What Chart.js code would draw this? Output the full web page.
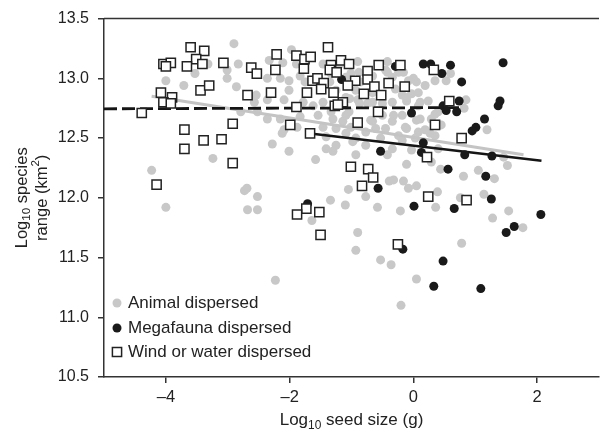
<!DOCTYPE html>
<html><head><meta charset="utf-8">
<script src="https://cdn.jsdelivr.net/npm/chart.js@4.4.1/dist/chart.umd.min.js"></script>
<style>html,body{margin:0;padding:0;background:#fff}#wrap{width:607px;height:435px}</style>
</head><body><div id="wrap"><canvas id="c" width="607" height="435"></canvas></div>
<script>
const seriesLabels = ['Animal dispersed', 'Megafauna dispersed', 'Wind or water dispersed'];
const xTicks = [-4, -2, 0, 2];
const yTicks = [10.5, 11.0, 11.5, 12.0, 12.5, 13.0, 13.5];

const animalX = [-2.90,-3.32,-2.83,-3.53,-3.01,-3.01,-4.00,-3.71,-2.86,-2.57,-2.54,-2.79,-3.24,-4.23,-2.73,-2.69,-4.00,-2.52,-2.68,-2.52,
-2.28,-2.01,-1.41,-1.58,-0.93,-0.11,-0.42,-0.39,-0.32,-0.16,-0.08,0.05,-1.05,-0.77,-0.58,-0.21,-1.34,-1.10,-1.64,-0.90,
-0.93,-0.53,-0.36,-2.23,0.05,-0.20,-2.12,0.27,0.39,0.36,0.44,0.81,1.05,1.31,1.52,1.46,1.14,0.76,1.54,1.28,
1.77,0.78,0.29,0.53,0.60,0.05,0.24,0.85,0.82,0.11,0.35,1.19,0.19,-1.97,-2.33,-2.11,-1.89,-2.36,-2.15,-2.01,
-1.83,-1.75,-2.01,-1.46,-1.33,-1.09,-0.88,-0.85,-0.93,-1.03,-0.66,-0.45,-0.34,-0.24,-0.08,-0.29,-0.18,-0.03,0.08,-0.34,
-0.11,0.08,-0.66,-0.90,-1.46,-1.62,-1.78,-2.09,-2.36,-2.52,-2.36,-2.15,-2.09,-1.88,-1.83,-1.54,-1.33,-1.14,-1.09,-0.66,
-0.50,-0.34,-0.18,-0.13,-0.45,-0.77,-1.25,-1.46,-0.93,-0.53,-0.24,0.08,-1.41,-0.90,-0.42,-0.16,0.00,0.19,0.35,-0.11,
0.11,0.40,-0.32,-0.11,-0.69,-0.61,-1.01,-1.09,-1.30,-1.04,-0.87,-0.74,-0.50,-0.66,-1.09,-1.35,-1.25,-0.18,0.03,0.35,
0.40,-0.03,-0.34,-0.77,-0.98,-1.25,-1.30,0.05,0.29,0.45,-0.42,-1.01,-1.19];
const animalY = [13.29,13.12,13.12,13.04,13.07,13.00,12.98,12.94,12.93,12.80,12.86,12.72,12.33,12.23,12.06,12.08,11.92,12.01,11.90,11.90,
12.45,12.39,12.41,12.32,12.36,12.28,12.36,12.14,12.15,12.14,12.08,12.10,12.07,12.01,11.92,11.89,11.98,11.94,11.81,11.71,
11.56,11.48,11.44,11.31,11.32,11.10,12.54,12.54,12.05,11.92,12.24,12.18,12.23,12.16,12.27,12.34,12.03,12.00,11.89,11.83,
11.75,11.62,12.30,12.98,13.04,12.97,12.81,12.82,12.75,12.66,12.70,12.57,12.57,13.24,13.15,13.13,13.12,13.00,13.00,12.98,
13.02,12.97,12.90,13.12,13.04,13.01,13.05,12.97,12.90,12.83,13.02,13.07,13.01,13.05,12.98,12.91,12.86,12.87,12.88,12.80,
12.81,12.77,12.80,12.82,12.80,12.77,12.80,12.82,12.82,12.72,12.66,12.66,12.57,12.59,12.68,12.69,12.72,12.64,12.69,12.64,
12.69,12.64,12.69,12.59,12.58,12.55,12.58,12.59,12.50,12.50,12.52,12.55,12.51,13.14,13.14,13.05,13.00,12.94,12.98,12.84,
12.80,12.72,12.69,12.58,12.65,12.58,12.59,12.54,12.66,12.72,12.79,12.79,12.79,12.88,12.84,12.97,12.90,12.48,12.50,12.52,
12.41,12.40,12.41,12.44,12.47,12.44,12.39,12.65,12.66,12.61,13.05,13.04,13.12];

const megaX = [-1.16,-0.29,0.16,0.28,0.46,0.60,0.78,1.45,1.40,1.37,0.74,0.48,0.53,0.70,1.15,1.01,0.95,-0.03,0.16,0.13,
0.83,1.27,0.56,1.17,1.26,0.66,0.01,2.06,1.63,1.50,0.48,-0.53,-0.57,-1.71,-0.17,0.33,1.09];
const megaY = [12.99,13.10,13.12,13.12,13.04,13.11,12.97,13.13,12.81,12.77,12.81,12.77,12.73,12.72,12.66,12.59,12.56,12.71,12.46,12.38,
12.36,12.35,12.24,12.18,11.99,11.91,11.93,11.86,11.76,11.71,11.47,12.39,12.08,11.95,11.57,11.26,11.24];

const windX = [-3.60,-3.38,-3.51,-4.04,-3.92,-4.00,-3.66,-3.41,-3.07,-2.62,-2.53,-3.44,-3.30,-4.08,-3.90,-4.04,-3.92,-4.39,-2.68,-3.70,
-2.92,-3.39,-3.10,-3.70,-2.92,-4.15,-1.38,-2.21,-1.89,-1.76,-1.66,-2.23,-1.77,-1.17,-1.04,-1.33,-1.35,-1.24,-0.56,-0.21,
-0.74,-0.74,-1.63,-1.55,-1.45,-1.49,-0.94,-1.06,-0.63,-0.40,-0.14,-2.30,-1.72,-1.29,-0.80,-0.52,-1.14,-1.27,-1.22,-1.89,
-0.57,-0.90,-1.99,-1.67,0.33,0.58,0.35,0.78,0.22,0.24,0.86,-1.01,-0.73,-0.65,-0.83,-1.73,-1.88,-1.52,-1.50,-0.25];
const windY = [13.26,13.23,13.16,13.12,13.13,13.10,13.10,13.12,13.13,13.09,13.04,12.90,12.94,12.88,12.84,12.80,12.79,12.71,12.86,12.57,
12.62,12.48,12.49,12.41,12.29,12.11,13.26,13.20,13.19,13.16,13.18,13.07,13.08,13.15,13.12,13.11,13.07,13.05,13.11,13.11,
13.06,12.99,12.98,13.00,12.96,12.91,12.98,12.94,12.93,12.96,12.93,12.88,12.88,12.88,12.87,12.86,12.80,12.77,12.78,12.76,
12.72,12.63,12.61,12.54,13.07,12.81,12.61,12.50,12.34,12.01,11.98,12.26,12.24,12.17,12.10,11.91,11.86,11.88,11.69,11.61];

const animalFitX = [-4.23, 1.78], animalFitY = [12.85, 12.36];
const megaFitX = [-1.70, 2.07], megaFitY = [12.54, 12.31];
const windFitX = [-5.00, 0.74], windFitY = [12.745, 12.755];

const FONT = '"Liberation Sans", Arial, Helvetica, sans-serif';
const TXT = '#222';
const pts = (xs, ys) => xs.map((x, i) => ({x, y: ys[i]}));

function drawRich(ctx, parts, cx, cy, size) {
  let w = 0;
  parts.forEach(p => { ctx.font = (p.sub || p.sup ? size * 0.7 : size) + 'px ' + FONT; p.w = ctx.measureText(p.t).width; w += p.w; });
  let x = cx - w / 2;
  ctx.textBaseline = 'middle'; ctx.textAlign = 'left'; ctx.fillStyle = TXT;
  parts.forEach(p => {
    ctx.font = (p.sub || p.sup ? size * 0.7 : size) + 'px ' + FONT;
    const dy = p.sub ? size * 0.32 : (p.sup ? -size * 0.38 : 0);
    ctx.fillText(p.t, x, cy + dy); x += p.w;
  });
}

const decor = {
  id: 'decor',
  afterDraw(chart) {
    const ctx = chart.ctx, a = chart.chartArea;
    ctx.save();
    ctx.strokeStyle = '#333'; ctx.lineWidth = 1.5;
    ctx.beginPath(); ctx.moveTo(a.left, a.top); ctx.lineTo(a.right, a.top); ctx.stroke();
    drawRich(ctx, [{t:'Log'},{t:'10',sub:true},{t:' seed size (g)'}], (a.left + a.right) / 2, 420, 17);
    ctx.save();
    ctx.translate(22, (a.top + a.bottom) / 2); ctx.rotate(-Math.PI / 2);
    drawRich(ctx, [{t:'Log'},{t:'10',sub:true},{t:' species'}], 0, 0, 16.5);
    ctx.restore();
    ctx.save();
    ctx.translate(42, (a.top + a.bottom) / 2); ctx.rotate(-Math.PI / 2);
    drawRich(ctx, [{t:'range (km'},{t:'2',sup:true},{t:')'}], 0, 0, 16.5);
    ctx.restore();
    const rows = [303, 328, 352];
    const ds = chart.data.datasets;
    [0, 4, 5].forEach((di, k) => {
      const d = ds[di], y = rows[k];
      ctx.fillStyle = d.backgroundColor; ctx.strokeStyle = d.borderColor; ctx.lineWidth = d.borderWidth || 1;
      ctx.beginPath();
      if ((d.pointStyle || 'circle') === 'circle') { ctx.arc(117, y, d.pointRadius, 0, Math.PI * 2); ctx.fill(); }
      else { const s = Math.SQRT1_2 * d.pointRadius; ctx.rect(117 - s, y - s, 2 * s, 2 * s); ctx.fill(); ctx.stroke(); }
      ctx.font = '17px ' + FONT; ctx.fillStyle = TXT; ctx.textAlign = 'left'; ctx.textBaseline = 'middle';
      ctx.fillText(seriesLabels[k], 128, y);
    });
    ctx.restore();
  }
};

new Chart(document.getElementById('c'), {
  type: 'scatter',
  data: { datasets: [
    {label: seriesLabels[0], data: pts(animalX, animalY), backgroundColor: '#c8c8c8', borderColor: '#c8c8c8', borderWidth: 0, pointRadius: 4.5, order: 5},
    {label: 'animal fit', data: pts(animalFitX, animalFitY), showLine: true, borderColor: '#c4c4c4', borderWidth: 3, pointRadius: 0, order: 4},
    {label: 'mega fit', data: pts(megaFitX, megaFitY), showLine: true, borderColor: '#151515', borderWidth: 2.5, pointRadius: 0, order: 3},
    {label: 'wind fit', data: pts(windFitX, windFitY), showLine: true, borderColor: '#151515', borderWidth: 2.8, borderDash: [13, 5], pointRadius: 0, order: 2},
    {label: seriesLabels[1], data: pts(megaX, megaY), backgroundColor: '#1a1a1a', borderColor: '#1a1a1a', borderWidth: 0, pointRadius: 4.5, order: 1},
    {label: seriesLabels[2], data: pts(windX, windY), pointStyle: 'rect', backgroundColor: '#ffffff', borderColor: '#222', borderWidth: 1.5, pointRadius: 6.5, order: 0}
  ]},
  options: {
    responsive: false, animation: false, devicePixelRatio: 1,
    layout: {padding: {top: 16, right: 1, left: 0, bottom: 0}},
    plugins: {legend: {display: false}, tooltip: {enabled: false}},
    scales: {
      x: {type: 'linear', min: -5, max: 3,
        afterBuildTicks: s => { s.ticks = xTicks.map(v => ({value: v})); },
        afterFit: s => { s.height = 58; },
        ticks: {callback: v => v < 0 ? '\u2013' + Math.abs(v) : String(v), font: {size: 16.5, family: FONT}, color: TXT, padding: 5},
        grid: {drawOnChartArea: false, drawTicks: true, tickLength: 6, color: '#333', lineWidth: 1.5},
        border: {color: '#333', width: 1.5}},
      y: {type: 'linear', min: 10.5, max: 13.5,
        afterBuildTicks: s => { s.ticks = yTicks.map(v => ({value: v})); },
        afterFit: s => { s.width = 104; },
        ticks: {callback: v => Number(v).toFixed(1), font: {size: 16, family: FONT}, color: TXT, padding: 9},
        grid: {drawOnChartArea: false, drawTicks: true, tickLength: 6, color: '#333', lineWidth: 1.5},
        border: {color: '#333', width: 1.5}}
    }
  },
  plugins: [decor]
});
</script></body></html>
